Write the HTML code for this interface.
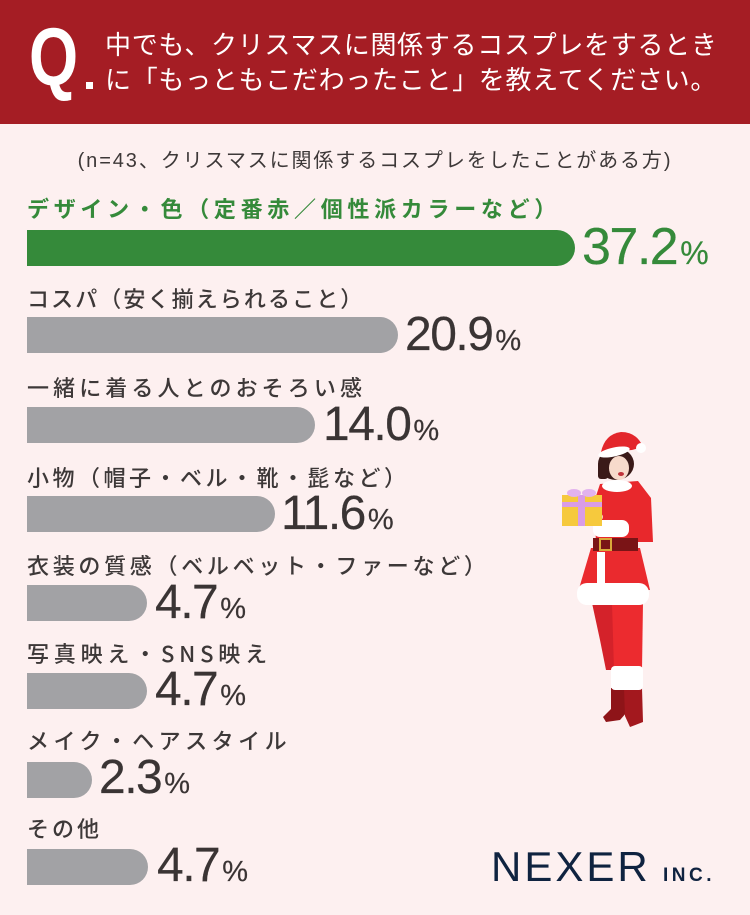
<!DOCTYPE html>
<html><head><meta charset="utf-8">
<style>
*{margin:0;padding:0;box-sizing:border-box}
html,body{width:750px;height:915px;overflow:hidden}
body{background:#fdf0f0;position:relative;font-family:"Liberation Sans","Noto Sans CJK JP",sans-serif}
.hdr{position:absolute;left:0;top:0;width:750px;height:124px;background:#a51d24}
.q{position:absolute;left:29px;top:17px;font:bold 82px/82px "Liberation Sans",sans-serif;color:#fff;transform:scaleX(0.77);transform-origin:left top}
.dot{position:absolute;left:86px;top:82px;width:7px;height:7px;background:#fff}
.t{position:absolute;left:105px;color:#fff;font-family:"Noto Sans CJK JP",sans-serif;font-size:26px;line-height:30px;letter-spacing:0.7px;white-space:nowrap;font-weight:400}
.sub{position:absolute;left:0;width:750px;top:146px;text-align:center;color:#3d3838;font-family:"Liberation Sans","Noto Sans CJK JP",sans-serif;font-size:20px;line-height:30px;letter-spacing:1.9px;white-space:nowrap}
.lb{position:absolute;left:27px;font-family:"Noto Sans CJK JP",sans-serif;font-size:22px;line-height:30px;color:#3d3838;white-space:nowrap;font-weight:500}
.bar{position:absolute;left:27px;height:36px;background:#a2a2a5;border-radius:0 18px 18px 0}
.v{position:absolute;font-family:"Liberation Sans",sans-serif;font-size:48px;line-height:48px;color:#3a3434;letter-spacing:-1.5px;white-space:nowrap;-webkit-text-stroke:0.2px #3a3434}
.v span{font-size:29px;letter-spacing:0;margin-left:3px}
.g{color:#358a3a;font-size:52px;line-height:52px;-webkit-text-stroke:0.2px #358a3a}
.g span{font-size:32px}
.nx{position:absolute;left:491px;top:846px;font-family:"Liberation Sans",sans-serif;font-size:42px;line-height:42px;letter-spacing:3px;color:#0f2340}
.inc{position:absolute;left:663px;top:866px;font-family:"Liberation Sans",sans-serif;font-weight:bold;font-size:19px;line-height:19px;letter-spacing:3.5px;color:#0f2340}
svg{position:absolute;left:0;top:0}
</style></head><body>
<div class="hdr"></div>
<div class="q">Q</div>
<div class="dot"></div>
<div class="t" style="top:29px">中でも、クリスマスに関係するコスプレをするとき</div>
<div class="t" style="top:64px">に「もっともこだわったこと」を教えてください。</div>

<div class="sub">(n=43、クリスマスに関係するコスプレをしたことがある方)</div>

<div class="lb" style="top:193px;color:#358a3a;font-weight:bold;letter-spacing:4.7px">デザイン・色（定番赤／個性派カラーなど）</div>
<div class="bar" style="top:230px;width:548px;background:#358a3a"></div>
<div class="v g" style="left:582px;top:221px">37.2<span>%</span></div>

<div class="lb" style="top:283px;letter-spacing:2.1px">コスパ（安く揃えられること）</div>
<div class="bar" style="top:317px;width:371px"></div>
<div class="v" style="left:405px;top:311px">20.9<span>%</span></div>

<div class="lb" style="top:372px;letter-spacing:4.1px">一緒に着る人とのおそろい感</div>
<div class="bar" style="top:407px;width:288px"></div>
<div class="v" style="left:323px;top:401px">14.0<span>%</span></div>

<div class="lb" style="top:462px;letter-spacing:3.5px">小物（帽子・ベル・靴・髭など）</div>
<div class="bar" style="top:496px;width:248px"></div>
<div class="v" style="left:281px;top:490px">11.6<span>%</span></div>

<div class="lb" style="top:550px;letter-spacing:3.7px">衣装の質感（ベルベット・ファーなど）</div>
<div class="bar" style="top:585px;width:120px"></div>
<div class="v" style="left:155px;top:579px">4.7<span>%</span></div>

<div class="lb" style="top:638px;letter-spacing:4.8px">写真映え・SNS映え</div>
<div class="bar" style="top:673px;width:120px"></div>
<div class="v" style="left:155px;top:666px">4.7<span>%</span></div>

<div class="lb" style="top:725px;letter-spacing:4.5px">メイク・ヘアスタイル</div>
<div class="bar" style="top:762px;width:65px"></div>
<div class="v" style="left:99px;top:754px">2.3<span>%</span></div>

<div class="lb" style="top:813px;letter-spacing:3px">その他</div>
<div class="bar" style="top:849px;width:121px"></div>
<div class="v" style="left:157px;top:842px">4.7<span>%</span></div>

<div class="nx">NEXER</div>
<div class="inc">INC.</div>

<svg width="750" height="915" viewBox="0 0 750 915">
  <path d="M611 688 L627 688 L627 712 L620 720 L606 722 L603 717 L611 709 Z" fill="#8e1418"/>
  <path d="M624 688 L642 688 L643 722 L630 727 L625 716 Z" fill="#a3181e"/>
  <path d="M592 603 L618 603 L616 640 L614 670 L606 670 L600 640 Z" fill="#d4222a"/>
  <path d="M612 603 L643 603 L642 670 L614 670 Z" fill="#ec2b2f"/>
  <rect x="611" y="666" width="32" height="24" rx="4" fill="#fff"/>
  <path d="M591 548 L640 548 L650 590 L578 592 Z" fill="#ea2a2e"/>
  <rect x="597" y="552" width="8" height="36" fill="#fff"/>
  <rect x="577" y="583" width="72" height="22" rx="10" fill="#fff"/>
  <path d="M600 484 L638 481 L651 498 L653 542 L596 542 L594 502 Z" fill="#e8282c"/>
  <rect x="593" y="538" width="45" height="13" fill="#7a1416"/>
  <rect x="600" y="539" width="11" height="11" fill="none" stroke="#d9a93a" stroke-width="2"/>
  <ellipse cx="617" cy="486" rx="15" ry="6" fill="#fff"/>
  <rect x="593" y="520" width="36" height="17" rx="7" fill="#fff"/>
  <ellipse cx="598" cy="517" rx="5" ry="4" fill="#f5d6c6"/>
  <rect x="562" y="495" width="40" height="31" fill="#f6c93d"/>
  <rect x="578" y="495" width="7" height="31" fill="#d99ce6"/>
  <rect x="562" y="502" width="40" height="5" fill="#d99ce6"/>
  <ellipse cx="574" cy="493" rx="7" ry="4" fill="#e2b2ee"/>
  <ellipse cx="589" cy="493" rx="7" ry="4" fill="#e2b2ee"/>
  <ellipse cx="616" cy="464" rx="18" ry="16" fill="#3a1a18"/>
  <rect x="598" y="462" width="10" height="17" rx="3" fill="#3a1a18"/>
  <ellipse cx="619" cy="468" rx="10" ry="12" fill="#f7dacb"/>
  <ellipse cx="621" cy="474" rx="3" ry="2" fill="#c0323a"/>
  <path d="M601 452 Q605 434 621 432 Q637 432 643 447 L632 450 Z" fill="#e3262b"/>
  <ellipse cx="614" cy="452" rx="16" ry="4.5" fill="#fff" transform="rotate(-12 614 452)"/>
  <circle cx="641" cy="448" r="5" fill="#fff"/>
</svg>
</body></html>
